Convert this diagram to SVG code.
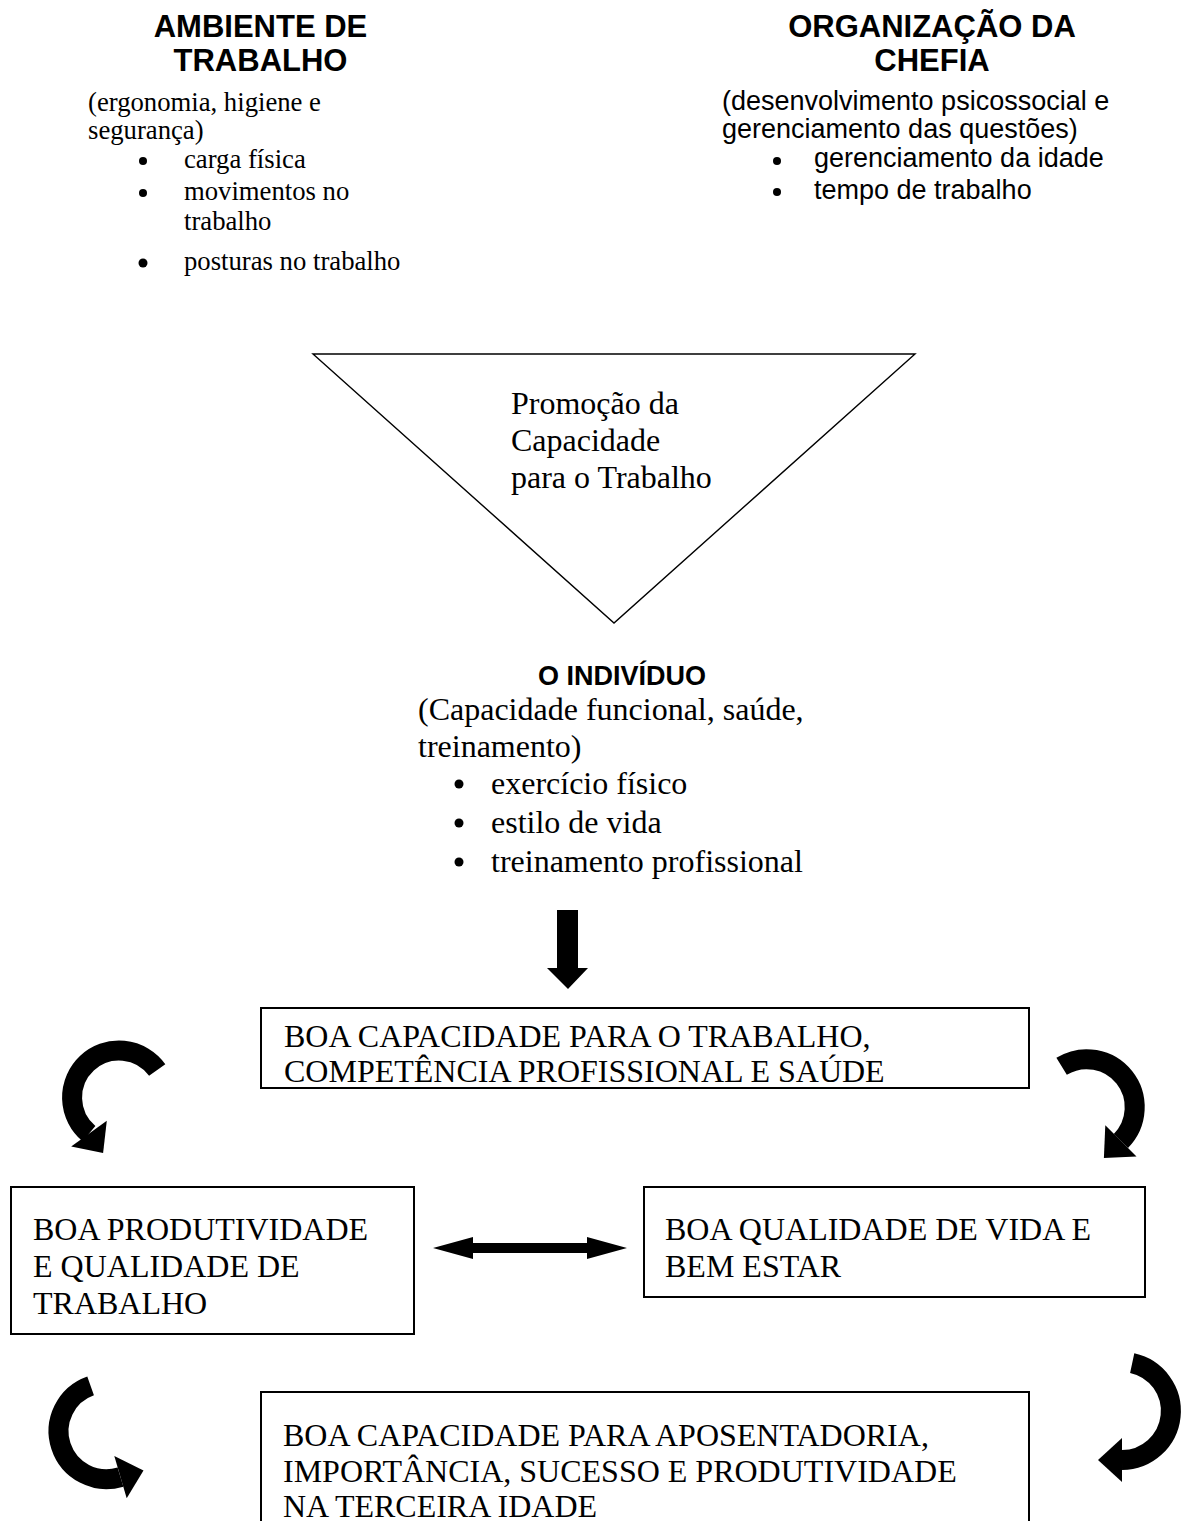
<svg xmlns="http://www.w3.org/2000/svg" width="1187" height="1521" viewBox="0 0 1187 1521">
<style>
.h{font-family:"Liberation Sans",Arial,sans-serif;font-weight:bold;font-size:31px;text-anchor:middle;fill:#000}
.sa{font-family:"Liberation Sans",Arial,sans-serif;font-size:27px;fill:#000}
.st{font-family:"Liberation Serif","Times New Roman",serif;font-size:26.7px;fill:#000}
.t{font-family:"Liberation Serif","Times New Roman",serif;font-size:32px;fill:#000}
.box{fill:#fff;stroke:#000;stroke-width:2}
.tri{fill:#fff;stroke:#000;stroke-width:1.4}
.arc{fill:none;stroke:#000;stroke-width:20}
.fill{fill:#000;stroke:none}
</style>
<rect width="1187" height="1521" fill="#fff"/>

<g id="ambiente">
<text class="h" x="260.5" y="37">AMBIENTE DE</text>
<text class="h" x="260.5" y="71">TRABALHO</text>
<text class="st" x="88" y="111">(ergonomia, higiene e</text>
<text class="st" x="88" y="139">segurança)</text>
<circle class="fill" cx="143" cy="161" r="4"/>
<text class="st" x="184" y="168">carga física</text>
<circle class="fill" cx="143" cy="193" r="4"/>
<text class="st" x="184" y="200">movimentos no</text>
<text class="st" x="184" y="230">trabalho</text>
<circle class="fill" cx="143" cy="263" r="4.5"/>
<text class="st" x="184" y="270">posturas no trabalho</text>
</g>

<g id="chefia">
<text class="h" x="932" y="37">ORGANIZAÇÃO DA</text>
<text class="h" x="932" y="71">CHEFIA</text>
<text class="sa" x="722" y="110">(desenvolvimento psicossocial e</text>
<text class="sa" x="722" y="138">gerenciamento das questões)</text>
<circle class="fill" cx="777" cy="161" r="4"/>
<text class="sa" x="814" y="167">gerenciamento da idade</text>
<circle class="fill" cx="777" cy="192" r="4"/>
<text class="sa" x="814" y="199">tempo de trabalho</text>
</g>

<g id="promocao">
<polygon class="tri" points="313,354 915,354 614,623"/>
<text class="t" x="511" y="414">Promoção da</text>
<text class="t" x="511" y="451">Capacidade</text>
<text class="t" x="511" y="488">para o Trabalho</text>
</g>

<g id="individuo">
<text class="h" x="622" y="685" style="font-size:27px">O INDIVÍDUO</text>
<text class="t" x="418" y="720">(Capacidade funcional, saúde,</text>
<text class="t" x="418" y="757">treinamento)</text>
<circle class="fill" cx="459" cy="784" r="4.5"/>
<text class="t" x="491" y="794">exercício físico</text>
<circle class="fill" cx="459" cy="823" r="4.5"/>
<text class="t" x="491" y="833">estilo de vida</text>
<circle class="fill" cx="459" cy="862" r="4.5"/>
<text class="t" x="491" y="872">treinamento profissional</text>
</g>

<g id="boa-capacidade">
<rect class="box" x="261" y="1008" width="768" height="80"/>
<text class="t" x="284" y="1047">BOA CAPACIDADE PARA O TRABALHO,</text>
<text class="t" x="284" y="1082">COMPETÊNCIA PROFISSIONAL E SAÚDE</text>
</g>

<g id="produtividade">
<rect class="box" x="11" y="1187" width="403" height="147"/>
<text class="t" x="33" y="1240">BOA PRODUTIVIDADE</text>
<text class="t" x="33" y="1277">E QUALIDADE DE</text>
<text class="t" x="33" y="1314">TRABALHO</text>
</g>

<g id="qualidade-vida">
<rect class="box" x="644" y="1187" width="501" height="110"/>
<text class="t" x="665" y="1240">BOA QUALIDADE DE VIDA E</text>
<text class="t" x="665" y="1277">BEM ESTAR</text>
</g>

<g id="aposentadoria">
<rect class="box" x="261" y="1392" width="768" height="140"/>
<text class="t" x="283" y="1446">BOA CAPACIDADE PARA APOSENTADORIA,</text>
<text class="t" x="283" y="1482">IMPORTÂNCIA, SUCESSO E PRODUTIVIDADE</text>
<text class="t" x="283" y="1517">NA TERCEIRA IDADE</text>
</g>

<g id="connectors">
<polygon class="fill" points="557,910 578,910 578,968 588,968 568,989 547,968 557,968"/>
<polygon class="fill" points="433,1248 473,1237 473,1243 587,1243 587,1237 627,1248 587,1259 587,1253 473,1253 473,1259"/>
<path class="arc" d="M157.2,1070 A47,47 0 1 0 89,1133.6"/>
<polygon class="fill" points="71.2,1146.5 106.8,1120.7 103.1,1153"/>
<path class="arc" d="M1061.6,1066.3 A48,48 0 0 1 1120.9,1140.9"/>
<polygon class="fill" points="1136.5,1156.5 1105.3,1125.3 1103.9,1157.9"/>
<path class="arc" d="M90.6,1385.9 A48,48 0 0 0 120.5,1477.1"/>
<polygon class="fill" points="126.7,1498.2 114.3,1456 143.5,1470.4"/>
<path class="arc" d="M1132.2,1363.1 A49,49 0 0 1 1122,1460"/>
<polygon class="fill" points="1122,1482 1122,1438 1098,1460"/>
</g>
</svg>
